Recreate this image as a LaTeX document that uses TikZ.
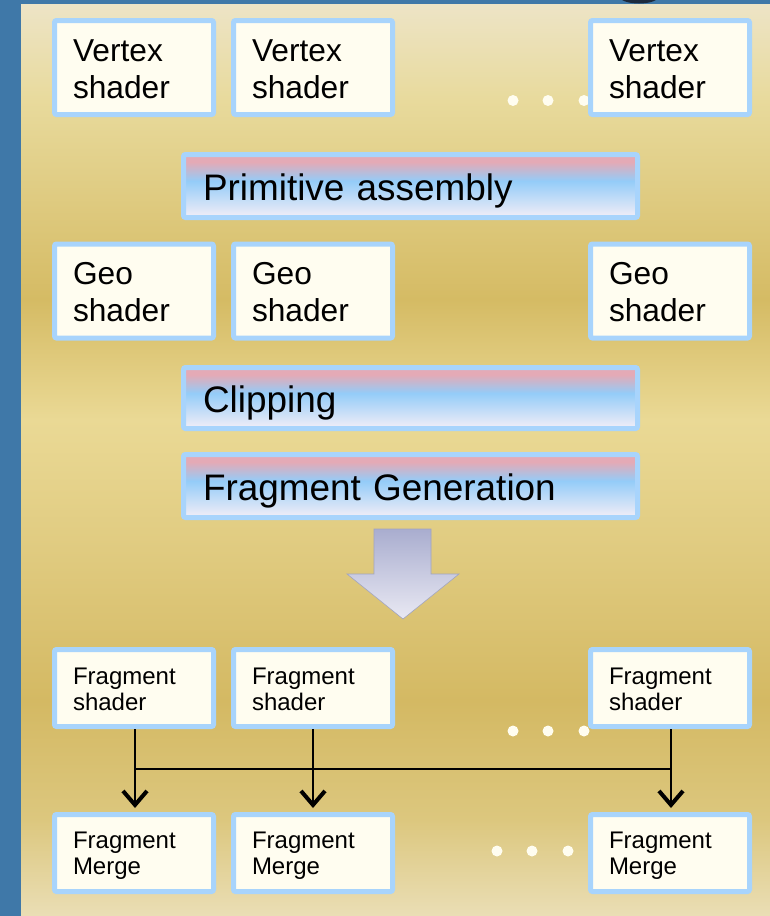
\documentclass[tikz,border=0pt]{standalone}
\usepackage{fontspec}
\setmainfont{Liberation Sans}
\usetikzlibrary{arrows.meta,calc}
\definecolor{bgblue}{HTML}{3F78A8}
\definecolor{gA}{HTML}{EADEB5}
\definecolor{gB}{HTML}{DCC77E}
\definecolor{gC}{HTML}{D4B963}
\definecolor{gD}{HTML}{E0CB80}
\definecolor{gE}{HTML}{EAD995}
\definecolor{gF}{HTML}{D5BB64}
\definecolor{gG}{HTML}{E8DA9C}
\definecolor{gH}{HTML}{EDE4C6}
\definecolor{barW}{HTML}{F3EEF7}
\definecolor{barB}{HTML}{94CCF8}
\definecolor{barP}{HTML}{E4AAB6}
\definecolor{boxline}{HTML}{A8D4FC}
\definecolor{ivory}{HTML}{FFFDF0}
\definecolor{arrTop}{HTML}{A9ADCF}
\definecolor{arrBot}{HTML}{E9E9F3}
\definecolor{titledark}{HTML}{1C2A3E}
\pgfdeclareverticalshading{goldbg}{100bp}{color(0bp)=(gA); color(25bp)=(gA); color(30.3bp)=(gB); color(36.8bp)=(gC); color(45.1bp)=(gD); color(52.2bp)=(gE); color(58.8bp)=(gF); color(69.7bp)=(gG); color(75bp)=(gH); color(100bp)=(gH)}
\pgfdeclareverticalshading{barshade}{100bp}{color(0bp)=(barW); color(25bp)=(barW); color(54bp)=(barB); color(69bp)=(barP); color(100bp)=(barP)}
\tikzset{
  box/.style={draw=boxline, line width=5pt, fill=ivory, rounded corners=2pt,
    minimum width=159pt, minimum height=94pt, text width=122pt,
    inner xsep=18.5pt, inner ysep=0pt, align=left,
    text height=24pt, text depth=37pt,
    font=\fontsize{31.7pt}{37pt}\selectfont},
  smallbox/.style={box, minimum height=77pt, text height=18pt, text depth=26pt,
    font=\fontsize{24pt}{26pt}\selectfont},
  bar/.style={shading=barshade, draw=boxline, line width=5pt, rounded corners=2pt,
    minimum width=454pt, minimum height=63pt, text width=415pt,
    inner xsep=19.5pt, inner ysep=0pt, align=left,
    text height=28pt, text depth=0pt,
    font=\fontsize{36.9pt}{43pt}\selectfont},
  conn/.style={line width=2pt, shorten >=4pt,
    -{Straight Barb[length=14pt,width=24pt,line width=4pt]}},
  thinline/.style={line width=2pt},
  dot/.style={fill=ivory}
}
\begin{document}
\begin{tikzpicture}[x=1pt,y=-1pt]
\useasboundingbox (0,0) rectangle (770,916);
\fill[bgblue] (0,0) rectangle (770,916);
\begin{scope}
  \clip (0,0) rectangle (770,4);
  \fill[titledark] (639,-3) ellipse (19 and 6.5);
\end{scope}
\shade[shading=goldbg] (21,4) rectangle (770,916);
% dots
\foreach \x in {513,548,584} {
  \fill[dot] (\x,100.5) circle (5.5);
  \fill[dot] (\x,731) circle (5.5);
}
\foreach \x in {497,532,568} \fill[dot] (\x,851) circle (5.5);
% vertex shaders
\node[box] (v1) at (134,67.5) {Vertex\\shader};
\node[box] (v2) at (313,67.5) {Vertex\\shader};
\node[box] (v3) at (670,67.5) {Vertex\\shader};
% primitive assembly
\node[bar] (pa) at (410.5,186) {Primitive assembly};
% geo shaders
\node[box] (g1) at (134,291) {Geo\\shader};
\node[box] (g2) at (313,291) {Geo\\shader};
\node[box] (g3) at (670,291) {Geo\\shader};
% clipping, fragment generation
\node[bar, minimum height=61pt] (cl) at (410.5,398) {Clipping};
\node[bar] (fg) at (410.5,486) {Fragment Generation};
% big arrow
\shade[top color=arrTop, bottom color=arrBot, draw=arrTop!80!gray, line width=0.6pt]
  (374,529) -- (431,529) -- (431,574) -- (459,574) -- (403,619) -- (347,574) -- (374,574) -- cycle;
% fragment shaders
\node[smallbox] (fs1) at (134,688) {Fragment\\shader};
\node[smallbox] (fs2) at (313,688) {Fragment\\shader};
\node[smallbox] (fs3) at (670,688) {Fragment\\shader};
% fragment merge
\node[smallbox, text height=16pt] (fm1) at (134,853) {Fragment\\Merge};
\node[smallbox, text height=16pt] (fm2) at (313,853) {Fragment\\Merge};
\node[smallbox, text height=16pt] (fm3) at (670,853) {Fragment\\Merge};
% connectors
\coordinate (j1) at ($(fs1.south)+(1,40)$);
\coordinate (j3) at ($(fs3.south)+(1,40)$);
\draw[thinline] (j1) -- (j3);
\draw[conn] ([xshift=1pt]fs1.south) -- ([xshift=1pt]fm1.north);
\draw[conn] (fs2.south) -- (fm2.north);
\draw[conn] ([xshift=1pt]fs3.south) -- ([xshift=1pt]fm3.north);
\end{tikzpicture}
\end{document}
